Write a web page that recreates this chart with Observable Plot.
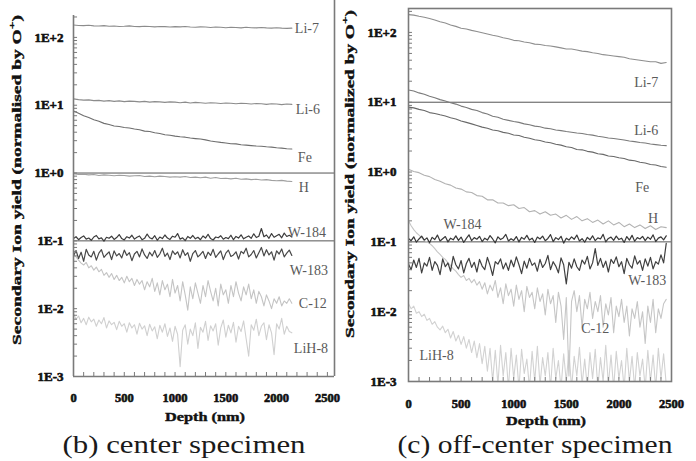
<!DOCTYPE html>
<html><head><meta charset="utf-8">
<script src="https://cdn.jsdelivr.net/npm/d3@7"></script>
<script src="https://cdn.jsdelivr.net/npm/@observablehq/plot@0.6"></script>
<style>
body{margin:0;background:#fff}
#wrap{position:relative;width:696px;height:461px;overflow:hidden;background:#fff}
#wrap svg{position:absolute;top:0;font-family:'Liberation Serif','Times New Roman',serif}
</style>
</head><body><div id="wrap"></div>
<script>
// ---------- data ----------
const depthFine = [0,25,50,75,100,125,150,175,200,225,250,275,300,325,350,375,400,425,450,475,
500,525,550,575,600,625,650,675,700,725,750,775,800,825,850,875,900,925,950,975,
1000,1025,1050,1075,1100,1125,1150,1175,1200,1225,1250,1275,1300,1325,1350,1375,1400,1425,1450,1475,
1500,1525,1550,1575,1600,1625,1650,1675,1700,1725,1750,1775,1800,1825,1850,1875,1900,1925,1950,1975,
2000,2025,2050,2075,2100,2125,2150,2175,2200,2225,2250,2275,2300,2325,2350,2375,2400,2425,2450];
const depthCoarse = [0,50,100,150,200,250,300,350,400,450,500,550,600,650,700,750,800,850,900,950,
1000,1050,1100,1150,1200,1250,1300,1350,1400,1450,1500,1550,1600,1650,1700,1750,1800,1850,1900,1950,
2000,2050,2100,2150,2200,2250,2300,2350,2400,2450];

const xTicks = [0,500,1000,1500,2000,2500];
const yTicks = [100,10,1,0.1,0.01,0.001];
const yTickLabels = ["1E+2","1E+1","1E+0","1E-1","1E-2","1E-3"];

// (b) center specimen
const bLi7 = [152,150,149,151,148,147,149,146,147,145,146,148,145,144,146,145,143,145,144,142,
144,143,145,142,141,143,142,140,142,141,139,141,140,138,141,139,138,140,138,137,139,137,136,137];
const bLi6 = [12.4,12.1,11.9,12.0,11.7,11.8,11.5,11.7,11.4,11.6,11.3,11.5,11.4,11.2,11.4,11.1,11.3,11.2,11.0,11.2,
11.1,10.9,11.1,10.8,11.0,10.9,10.7,10.9,10.8,10.6,10.8,10.7,10.5,10.7,10.6,10.4,10.6,10.5,10.3,10.5,10.4,10.2,10.4,10.3];
const bFe = [8.2,7.6,7.0,6.6,6.1,5.8,5.4,5.2,4.95,4.85,4.7,4.62,4.45,4.35,4.15,4.1,3.92,3.83,3.66,3.6,
3.5,3.42,3.38,3.28,3.22,3.17,3.08,2.96,2.9,2.83,2.78,2.7,2.69,2.61,2.58,2.54,2.5,2.48,2.44,2.41,2.36,2.33,2.28,2.26];
const bH = [0.98,0.95,0.96,0.94,0.95,0.92,0.94,0.93,0.91,0.93,0.92,0.90,0.91,0.92,0.89,0.90,0.88,0.90,0.89,0.87,
0.88,0.87,0.89,0.86,0.87,0.85,0.87,0.84,0.86,0.83,0.84,0.82,0.84,0.81,0.82,0.80,0.81,0.79,0.80,0.78,0.77,0.78,0.76,0.75];
const bW184 = [0.108,0.115,0.104,0.112,0.118,0.106,0.110,0.102,0.114,0.120,
0.107,0.111,0.099,0.113,0.109,0.117,0.105,0.112,0.124,0.108,
0.103,0.115,0.110,0.121,0.106,0.113,0.118,0.104,0.109,0.126,
0.111,0.107,0.119,0.102,0.114,0.108,0.122,0.110,0.105,0.117,
0.113,0.128,0.106,0.111,0.101,0.116,0.109,0.120,0.107,0.113,
0.104,0.118,0.110,0.125,0.108,0.103,0.114,0.111,0.119,0.106,
0.112,0.108,0.121,0.104,0.116,0.110,0.123,0.107,0.113,0.118,
0.109,0.127,0.112,0.117,0.152,0.115,0.122,0.109,0.128,0.113,
0.119,0.125,0.111,0.130,0.116,0.121,0.114];
const bW183 = [0.060,0.072,0.055,0.068,0.050,0.075,0.062,0.058,0.070,0.052,
0.066,0.074,0.057,0.063,0.069,0.053,0.071,0.060,0.065,0.056,
0.073,0.061,0.067,0.051,0.064,0.070,0.058,0.076,0.062,0.055,
0.068,0.060,0.072,0.057,0.064,0.078,0.059,0.066,0.053,0.071,
0.063,0.069,0.056,0.074,0.061,0.067,0.050,0.065,0.072,0.058,
0.063,0.070,0.055,0.068,0.061,0.075,0.057,0.064,0.071,0.053,
0.066,0.073,0.059,0.062,0.069,0.054,0.070,0.065,0.078,0.058,
0.063,0.072,0.056,0.067,0.080,0.060,0.074,0.062,0.069,0.052,
0.071,0.064,0.076,0.058,0.066,0.073,0.061];
const bC12 = [0.062,0.058,0.052,0.047,0.044,0.048,0.040,0.043,0.037,0.041,
0.035,0.038,0.031,0.034,0.029,0.033,0.027,0.031,0.026,0.029,
0.024,0.030,0.025,0.028,0.022,0.027,0.023,0.026,0.019,0.025,
0.021,0.028,0.018,0.024,0.016,0.026,0.019,0.023,0.015,0.027,
0.017,0.022,0.013,0.025,0.016,0.0095,0.021,0.014,0.024,0.017,
0.012,0.022,0.015,0.026,0.018,0.013,0.020,0.011,0.023,0.016,
0.019,0.012,0.022,0.015,0.025,0.017,0.013,0.021,0.016,0.023,
0.014,0.019,0.012,0.018,0.015,0.011,0.016,0.013,0.010,0.014,
0.012,0.015,0.011,0.013,0.012,0.014,0.012];
const bLiH8 = [0.0085,0.0070,0.0078,0.0062,0.0072,0.0058,0.0075,0.0064,0.0070,0.0055,
0.0068,0.0060,0.0074,0.0052,0.0066,0.0058,0.0063,0.0049,0.0065,0.0055,
0.0060,0.0045,0.0062,0.0052,0.0058,0.0042,0.0061,0.0050,0.0056,0.0040,
0.0059,0.0047,0.0054,0.0036,0.0057,0.0045,0.0060,0.0039,0.0052,0.0033,
0.0055,0.0042,0.0014,0.0048,0.0058,0.0030,0.0050,0.0040,0.0062,0.0026,
0.0053,0.0045,0.0065,0.0034,0.0056,0.0047,0.0060,0.0029,0.0052,0.0068,
0.0038,0.0057,0.0044,0.0063,0.0032,0.0055,0.0046,0.0066,0.0036,0.0020,
0.0058,0.0048,0.0070,0.0040,0.0055,0.0062,0.0035,0.0058,0.0044,0.0021,
0.0060,0.0050,0.0072,0.0042,0.0055,0.0046,0.0044];

// (c) off-center specimen
const cLi7 = [180,177,170,165,158,151,142,136,128,122,115,112,107,103,99,95,91,88,84,81,
77,76,73,71,68,67,65,64,62,60,58,58,56,54,53,51,50,48,47,46,45,44,42,41,40,39,38,38,36,37];
const cLi6 = [15.0,14.5,13.6,13.0,12.2,11.6,10.9,10.4,9.8,9.4,8.8,8.4,7.9,7.6,7.1,6.8,6.3,6.1,5.7,5.5,
5.3,5.15,4.9,4.75,4.55,4.45,4.25,4.18,4.0,3.92,3.8,3.72,3.62,3.57,3.45,3.38,3.25,3.18,3.08,3.02,
2.95,2.88,2.78,2.73,2.65,2.6,2.52,2.47,2.42,2.39];
const cFe = [8.5,8.3,7.9,7.6,7.1,6.9,6.6,6.35,6.0,5.75,5.4,5.15,4.9,4.65,4.4,4.25,4.0,3.9,3.7,3.6,
3.4,3.33,3.15,3.05,2.9,2.83,2.7,2.63,2.5,2.43,2.3,2.25,2.1,2.08,1.98,1.93,1.83,1.79,1.7,1.67,
1.6,1.56,1.48,1.45,1.38,1.35,1.28,1.26,1.2,1.17];
const cH = [1.10,1.02,0.98,0.90,0.86,0.78,0.74,0.68,0.65,0.59,0.57,0.52,0.51,0.46,0.45,0.40,0.40,0.36,0.36,0.33,
0.34,0.30,0.31,0.27,0.28,0.25,0.27,0.24,0.25,0.22,0.24,0.21,0.23,0.20,0.215,0.19,0.205,0.18,0.20,0.175,
0.19,0.165,0.18,0.16,0.175,0.155,0.17,0.15,0.165,0.16];
const cW184 = [0.112,0.104,0.118,0.099,0.110,0.121,0.106,0.114,0.097,0.116,
0.108,0.125,0.103,0.111,0.119,0.100,0.113,0.107,0.122,0.105,
0.117,0.098,0.112,0.126,0.104,0.115,0.109,0.120,0.101,0.113,
0.106,0.123,0.110,0.097,0.118,0.108,0.114,0.128,0.103,0.111,
0.105,0.119,0.100,0.116,0.109,0.124,0.106,0.113,0.098,0.117,
0.110,0.121,0.104,0.112,0.127,0.101,0.115,0.108,0.120,0.096,
0.113,0.106,0.118,0.109,0.125,0.103,0.111,0.099,0.116,0.107,
0.122,0.104,0.114,0.110,0.128,0.100,0.112,0.117,0.105,0.121,
0.108,0.113,0.098,0.119,0.106,0.124,0.102,0.115,0.110,0.120,
0.104,0.117,0.109,0.126,0.101,0.113,0.118,0.107,0.122];
const cW183 = [0.048,0.040,0.055,0.043,0.058,0.036,0.050,0.045,0.060,0.039,
0.052,0.046,0.034,0.057,0.044,0.050,0.038,0.062,0.047,0.041,
0.054,0.036,0.049,0.058,0.043,0.051,0.037,0.056,0.045,0.040,
0.060,0.046,0.033,0.052,0.048,0.057,0.041,0.050,0.039,0.055,
0.044,0.061,0.047,0.035,0.053,0.042,0.058,0.046,0.050,0.038,
0.056,0.043,0.049,0.064,0.040,0.052,0.045,0.036,0.059,0.047,
0.025,0.051,0.042,0.057,0.044,0.039,0.055,0.048,0.062,0.041,
0.050,0.080,0.046,0.058,0.043,0.053,0.037,0.056,0.049,0.061,
0.044,0.052,0.035,0.058,0.047,0.042,0.063,0.048,0.054,0.039,
0.057,0.045,0.060,0.041,0.052,0.048,0.065,0.050,0.095];
const cC12 = [0.20,0.17,0.15,0.135,0.125,0.115,0.105,0.10,0.095,0.088,
0.080,0.072,0.066,0.060,0.056,0.050,0.046,0.041,0.038,0.034,
0.031,0.033,0.028,0.030,0.026,0.029,0.024,0.027,0.021,0.026,
0.018,0.024,0.020,0.028,0.016,0.022,0.013,0.025,0.017,0.021,
0.012,0.024,0.015,0.020,0.010,0.023,0.016,0.019,0.011,0.022,
0.014,0.018,0.009,0.021,0.013,0.017,0.007,0.019,0.012,0.004,
0.016,0.0012,0.014,0.020,0.010,0.017,0.006,0.015,0.011,0.019,
0.008,0.014,0.010,0.017,0.006,0.013,0.009,0.016,0.005,0.012,
0.0085,0.015,0.007,0.012,0.0045,0.011,0.008,0.014,0.006,0.010,
0.0035,0.012,0.007,0.015,0.005,0.011,0.008,0.013,0.015];
const cLiH8 = [0.013,0.011,0.012,0.0095,0.010,0.0085,0.0092,0.0075,0.0080,0.0066,
0.0072,0.0060,0.0055,0.0062,0.0050,0.0056,0.0042,0.0052,0.0038,0.0046,
0.0034,0.0044,0.0030,0.0040,0.0026,0.0038,0.0022,0.0035,0.0018,0.0032,
0.0014,0.0030,0.0010,0.0028,0.0009,0.0033,0.0012,0.0026,0.0008,0.0030,
0.0011,0.0024,0.0008,0.0029,0.0013,0.0021,0.0008,0.0027,0.0010,0.0032,
0.0009,0.0022,0.0012,0.0026,0.0008,0.0030,0.0011,0.0020,0.0008,0.0025,
0.0010,0.0028,0.0008,0.0023,0.0012,0.0031,0.0009,0.0021,0.0008,0.0026,
0.0011,0.0029,0.0008,0.0022,0.0010,0.0033,0.0009,0.0024,0.0008,0.0027,
0.0011,0.0020,0.0008,0.0030,0.0010,0.0023,0.0008,0.0026,0.0012,0.0021,
0.0008,0.0028,0.0010,0.0024,0.0008,0.0030,0.0011,0.0025,0.0009];

// ---------- styling / layout ----------
const serif = "'Liberation Serif', 'Times New Roman', serif";

const panels = [
  {
    left: 0, width: 348, height: 461,
    marginLeft: 73, marginRight: 14, marginTop: 0, marginBottom: 85,
    xDomain: [0, 2570], yDomain: [1e-3, 350], axisTop: 211, framed: false,
    separators: [1, 0.1], tickLenX: 40, tickLenY: 1.145e-3,
    ytitle: ["Secondary Ion yield (normalised by O", ")"], ytx: 18, yty: 180, ytLen: 330,
    xtitleX: 205, xtitleY: 421, xtLen: 80, ylabDx: -10, xlabDy: 21,
    caption: "(b) center specimen", capX: 184, capY: 453, capLen: 243,
    series: [
      {name:"LiH-8", depth: depthFine, values: bLiH8, color:"#d0d0d0", w:1.1, anchor:"last", dx:2, dy:16, ta:"start"},
      {name:"C-12", depth: depthFine, values: bC12, color:"#c4c4c4", w:1.1, anchor:"last", dx:7, dy:0, ta:"start"},
      {name:"H", depth: depthCoarse, values: bH, color:"#a0a0a0", w:1.1, anchor:"last", dx:7, dy:6, ta:"start"},
      {name:"Li-7", depth: depthCoarse, values: bLi7, color:"#8c8c8c", w:1.1, anchor:"last", dx:3, dy:0, ta:"start"},
      {name:"Li-6", depth: depthCoarse, values: bLi6, color:"#8c8c8c", w:1.1, anchor:"last", dx:4, dy:5, ta:"start"},
      {name:"Fe", depth: depthCoarse, values: bFe, color:"#6e6e6e", w:1.1, anchor:"last", dx:6, dy:8, ta:"start"},
      {name:"W-183", depth: depthFine, values: bW183, color:"#484848", w:1.2, anchor:"last", dx:-2, dy:15, ta:"start"},
      {name:"W-184", depth: depthFine, values: bW184, color:"#3c3c3c", w:1.2, anchor:"last", dx:-4, dy:-4, ta:"start"}
    ]
  },
  {
    left: 348, width: 348, height: 461,
    marginLeft: 60, marginRight: 25, marginTop: 8, marginBottom: 80,
    xDomain: [0, 2500], yDomain: [1e-3, 220], axisTop: 220, framed: true,
    separators: [10, 0.1], tickLenX: 38, tickLenY: 1.14e-3,
    ytitle: ["Secondary Ion yield (normalized by O", ")"], ytx: 3, yty: 174, ytLen: 328,
    xtitleX: 198, xtitleY: 425, xtLen: 80, ylabDx: -12, xlabDy: 22,
    caption: "(c) off-center specimen", capX: 187, capY: 453, capLen: 275,
    series: [
      {name:"LiH-8", depth: depthFine, values: cLiH8, color:"#d2d2d2", w:1.1, anchor:"first", dx:11, dy:52, ta:"start"},
      {name:"C-12", depth: depthFine, values: cC12, color:"#c6c6c6", w:1.1, anchor:"last", dx:-57, dy:29, ta:"end"},
      {name:"H", depth: depthCoarse, values: cH, color:"#b2b2b2", w:1.1, anchor:"last", dx:-8, dy:-9, ta:"end"},
      {name:"Li-7", depth: depthCoarse, values: cLi7, color:"#8e8e8e", w:1.1, anchor:"last", dx:-8, dy:20, ta:"end"},
      {name:"Li-6", depth: depthCoarse, values: cLi6, color:"#7a7a7a", w:1.1, anchor:"last", dx:-8, dy:-15, ta:"end"},
      {name:"Fe", depth: depthCoarse, values: cFe, color:"#686868", w:1.1, anchor:"last", dx:-17, dy:20, ta:"end"},
      {name:"W-183", depth: depthFine, values: cW183, color:"#404040", w:1.2, anchor:"last", dx:0, dy:37, ta:"end"},
      {name:"W-184", depth: depthFine, values: cW184, color:"#383838", w:1.2, anchor:"first", dx:35, dy:-14, ta:"start"}
    ]
  }
];

function build(p) {
  const [x0, x1] = p.xDomain;
  const yMin = p.yDomain[0];
  const minorY = [];
  for (let e = -3; e <= 2; e++) for (let k = 1; k <= 9; k++) {
    const v = k * Math.pow(10, e);
    if (v <= p.axisTop) minorY.push(v);
  }
  const minorX = [];
  for (let v = 0; v <= x1; v += 100) minorX.push(v);

  const marks = [];
  const axisStroke = "#7a7a7a";
  marks.push(Plot.ruleY(p.separators, {x1: x0, x2: x1, stroke: "#555", strokeWidth: 1}));
  for (const s of p.series) {
    const rows = s.values.map((v, i) => ({depth: s.depth[i], value: v}));
    marks.push(Plot.line(rows, {x: "depth", y: "value", stroke: s.color, strokeWidth: s.w, clip: true}));
  }
  for (const s of p.series) {
    const rows = s.values.map((v, i) => ({depth: s.depth[i], value: v}));
    const sel = s.anchor === "first" ? Plot.selectFirst : Plot.selectLast;
    marks.push(Plot.text(rows, sel({x: "depth", y: "value", text: () => s.name, dx: s.dx, dy: s.dy,
      textAnchor: s.ta, fill: "#5a5a5a", fontSize: 14, fontFamily: serif})));
  }
  marks.push(Plot.ruleY(minorY, {y: d => d, x1: x0, x2: x0 + p.tickLenX, stroke: axisStroke, strokeWidth: 1}));
  marks.push(Plot.ruleX(minorX, {x: d => d, y1: yMin, y2: p.tickLenY, stroke: axisStroke, strokeWidth: 1}));
  if (p.framed) {
    marks.push(Plot.frame({stroke: axisStroke, strokeWidth: 1.6}));
  } else {
    marks.push(Plot.ruleX([x0], {y1: yMin, y2: p.axisTop, stroke: axisStroke, strokeWidth: 1.6}));
    marks.push(Plot.ruleX([x1], {y1: yMin, y2: p.yDomain[1], stroke: axisStroke, strokeWidth: 1.6}));
    marks.push(Plot.ruleY([yMin], {x1: x0, x2: x1, stroke: axisStroke, strokeWidth: 1.6}));
  }
  marks.push(Plot.text(yTicks, {x: x0, y: d => d, text: (d, i) => yTickLabels[i], dx: p.ylabDx,
    textAnchor: "end", fontWeight: "bold", fontSize: 13, fontFamily: serif, fill: "#111",
    stroke: "#111", strokeWidth: 0.6}));
  marks.push(Plot.text(xTicks, {x: d => d, y: yMin, dy: p.xlabDy, text: d => String(d),
    fontWeight: "bold", fontSize: 12.5, fontFamily: serif, fill: "#111", stroke: "#111", strokeWidth: 0.6}));

  const svg = Plot.plot({
    width: p.width, height: p.height,
    marginLeft: p.marginLeft, marginRight: p.marginRight, marginTop: p.marginTop, marginBottom: p.marginBottom,
    x: {domain: p.xDomain, axis: null},
    y: {type: "log", domain: p.yDomain, axis: null},
    style: {background: "transparent", overflow: "visible", fontFamily: serif},
    marks
  });
  svg.style.left = p.left + "px";
  const g = d3.select(svg);
  const yt = g.append("text")
    .attr("transform", `translate(${p.ytx},${p.yty}) rotate(-90)`)
    .attr("text-anchor", "middle").attr("dominant-baseline", "middle")
    .attr("font-family", serif).attr("font-weight", "bold").attr("font-size", 13)
    .attr("fill", "#111").attr("stroke", "#111").attr("stroke-width", 0.4)
    .attr("textLength", p.ytLen).attr("lengthAdjust", "spacingAndGlyphs");
  yt.append("tspan").text(p.ytitle[0]);
  yt.append("tspan").attr("font-size", 9).attr("dy", -5).text("+");
  yt.append("tspan").attr("dy", 5).text(p.ytitle[1]);
  g.append("text").attr("x", p.xtitleX).attr("y", p.xtitleY).attr("text-anchor", "middle")
    .attr("font-family", serif).attr("font-weight", "bold").attr("font-size", 12.5)
    .attr("fill", "#111").attr("stroke", "#111").attr("stroke-width", 0.4)
    .attr("textLength", p.xtLen).attr("lengthAdjust", "spacingAndGlyphs")
    .text("Depth (nm)");
  g.append("text").attr("x", p.capX).attr("y", p.capY).attr("text-anchor", "middle")
    .attr("font-family", serif).attr("font-size", 25).attr("fill", "#1a1a1a")
    .attr("textLength", p.capLen).attr("lengthAdjust", "spacingAndGlyphs")
    .text(p.caption);
  return svg;
}

const wrap = document.getElementById("wrap");
for (const p of panels) wrap.appendChild(build(p));
</script>
</body></html>
